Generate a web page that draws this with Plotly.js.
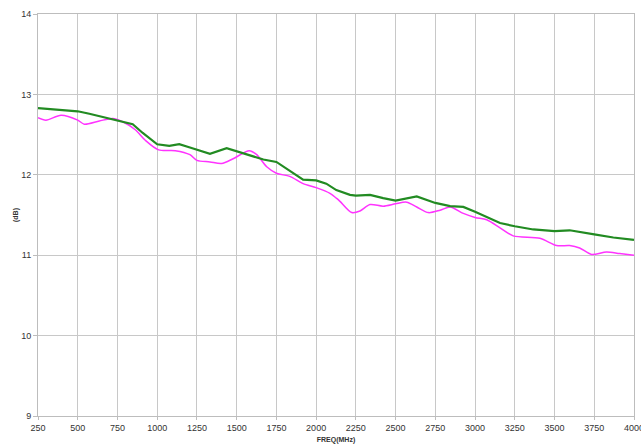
<!DOCTYPE html>
<html>
<head>
<meta charset="utf-8">
<script src="https://cdn.plot.ly/plotly-3.0.1.min.js"></script>
<style>html,body{margin:0;padding:0;background:#fff;}#chart{width:641px;height:444px;}</style>
</head>
<body>
<div id="chart"></div>
<script>
const greenFreq = [250,400,500,573,657,750,846,909,1000,1076,1139,1206,1250,1332,1437,1500,1573,1668,1750,1834,1918,2000,2064,2127,2213,2250,2339,2422,2500,2633,2750,2843,2926,3000,3094,3157,3250,3366,3500,3595,3750,3870,4000];
const greenDb = [12.83,12.81,12.79,12.76,12.72,12.68,12.63,12.52,12.38,12.36,12.38,12.34,12.31,12.26,12.33,12.29,12.25,12.19,12.16,12.05,11.94,11.93,11.89,11.81,11.75,11.74,11.75,11.71,11.68,11.73,11.65,11.61,11.60,11.54,11.45,11.40,11.36,11.32,11.30,11.31,11.26,11.22,11.19];
const magentaFreq = [250,300,395,500,541,636,720,783,862,925,1009,1114,1206,1250,1332,1405,1478,1579,1626,1689,1750,1834,1918,2000,2087,2127,2150,2224,2276,2339,2422,2500,2570,2633,2706,2780,2843,2926,3000,3073,3157,3240,3408,3513,3595,3658,3733,3827,3910,4000];
const magentaDb = [12.71,12.68,12.74,12.68,12.63,12.67,12.70,12.66,12.56,12.43,12.31,12.30,12.25,12.18,12.16,12.14,12.20,12.30,12.25,12.10,12.02,11.98,11.89,11.84,11.77,11.71,11.67,11.53,11.55,11.63,11.61,11.64,11.66,11.60,11.53,11.56,11.60,11.52,11.47,11.44,11.34,11.24,11.21,11.12,11.12,11.09,11.01,11.04,11.02,11.00];
const xTicks = [250,500,750,1000,1250,1500,1750,2000,2250,2500,2750,3000,3250,3500,3750,4000];
const yTicks = [9,10,11,12,13,14];

const traces = [
  {x: magentaFreq, y: magentaDb, type: 'scatter', mode: 'lines',
   line: {color: '#ff33ff', width: 1.5, shape: 'spline', smoothing: 0.8}, hoverinfo: 'skip'},
  {x: greenFreq, y: greenDb, type: 'scatter', mode: 'lines',
   line: {color: '#228b22', width: 2.2}, hoverinfo: 'skip'}
];

const layout = {
  width: 641, height: 444,
  margin: {l: 38, r: 7, t: 14, b: 28, pad: 0},
  paper_bgcolor: '#fff', plot_bgcolor: '#fff',
  showlegend: false,
  font: {family: 'Liberation Sans, Arial, sans-serif', size: 9, color: '#333'},
  xaxis: {
    range: [250, 4000], tickvals: xTicks, ticktext: xTicks.map(String),
    ticklabeloverflow: 'allow',
    showgrid: true, gridcolor: '#c8c8c8', gridwidth: 1,
    showline: true, linecolor: '#bdbdbd', linewidth: 1, mirror: true,
    ticks: 'outside', ticklen: 3, tickcolor: '#bdbdbd',
    zeroline: false, automargin: false,
    title: {text: '<b>FREQ(MHz)</b>', font: {size: 7, color: '#333'}, standoff: 7}
  },
  yaxis: {
    range: [9, 14], tickvals: yTicks, ticktext: yTicks.map(String),
    ticklabeloverflow: 'allow',
    showgrid: true, gridcolor: '#c8c8c8', gridwidth: 1,
    showline: true, linecolor: '#bdbdbd', linewidth: 1, mirror: true,
    ticks: 'outside', ticklen: 4, tickcolor: '#bdbdbd',
    zeroline: false, automargin: false,
    title: {text: '<b>(dB)</b>', font: {size: 7, color: '#333'}, standoff: 1}
  }
};

Plotly.newPlot('chart', traces, layout, {staticPlot: true, displayModeBar: false});
</script>
</body>
</html>
